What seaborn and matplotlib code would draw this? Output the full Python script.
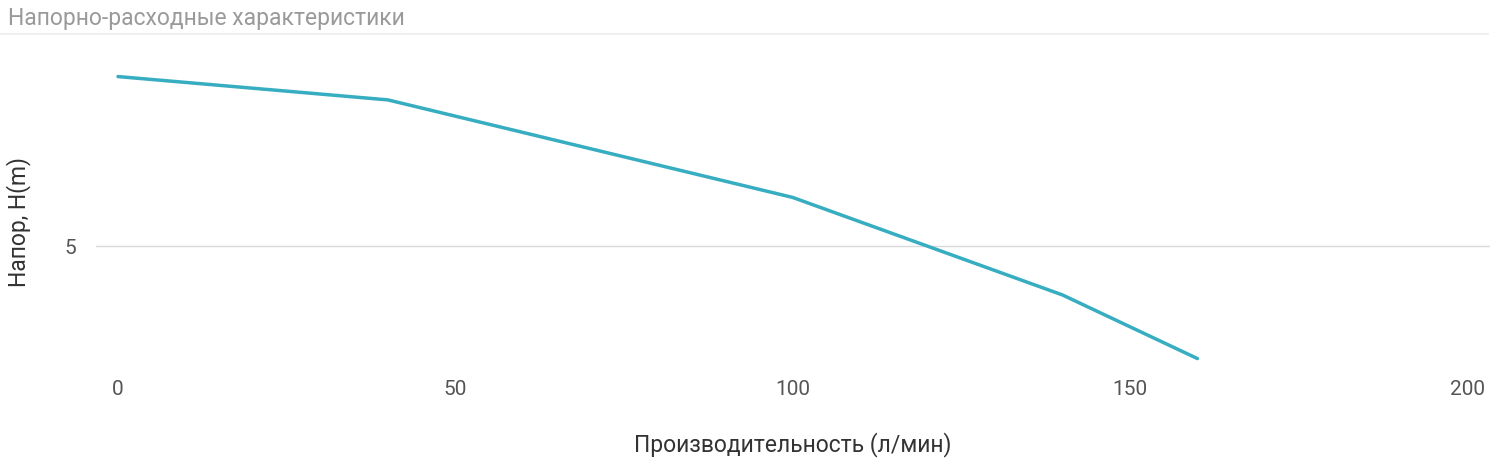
import seaborn as sns
import numpy as np
import matplotlib.pyplot as plt
from matplotlib.lines import Line2D
import pandas as pd

" DATA "
flow = [0, 40, 100, 140, 160]          # л/мин
head = [9.0, 8.45, 6.15, 3.85, 2.35]   # м
x_ticks = [0, 50, 100, 150, 200]
y_ticks = [5]

TITLE = "Напорно-расходные характеристики"
XLABEL = "Производительность (л/мин)"
YLABEL = "Напор, H(m)"
LINE_COLOR = "#36adc0"

sns.set_theme(style="white")
plt.rcParams['font.family'] = ['Roboto', 'DejaVu Sans']

df = pd.DataFrame({'flow': flow, 'head': head})

fig = plt.figure(figsize=(15, 4.74), dpi=100)
ax = fig.add_axes([0.064, 0.2194, 0.929, 0.696])

sns.lineplot(data=df, x="flow", y="head", ax=ax, color=LINE_COLOR,
             linewidth=2.5, sort=False)

ax.set_xlim(-3.26, 203.3)
ax.set_ylim(2.08, 9.86)
ax.set_xticks(x_ticks)
ax.set_yticks(y_ticks)
ax.grid(axis='y', color='#d9d9d9', linewidth=1)
ax.grid(axis='x', visible=False)
for s in ax.spines.values():
    s.set_visible(False)
ax.tick_params(axis='x', length=0, pad=7, labelsize=15, labelcolor='#555555')
ax.tick_params(axis='y', length=0, pad=14, labelsize=15, labelcolor='#555555')

ax.set_xlabel(XLABEL, fontsize=16.5, color='#333333', labelpad=24)
ax.set_ylabel(YLABEL, fontsize=16.5, color='#333333')
ax.yaxis.set_label_coords(-0.047, 0.45)

fig.text(0.005, 1 - 18 / 474, TITLE, fontsize=16.5, color='#9a9a9a',
         ha='left', va='center')
fig.add_artist(Line2D([0, 0.992], [1 - 34 / 474, 1 - 34 / 474],
                      transform=fig.transFigure, color='#efefef', linewidth=1.5))

plt.savefig("out.png", dpi=100, facecolor='white')
